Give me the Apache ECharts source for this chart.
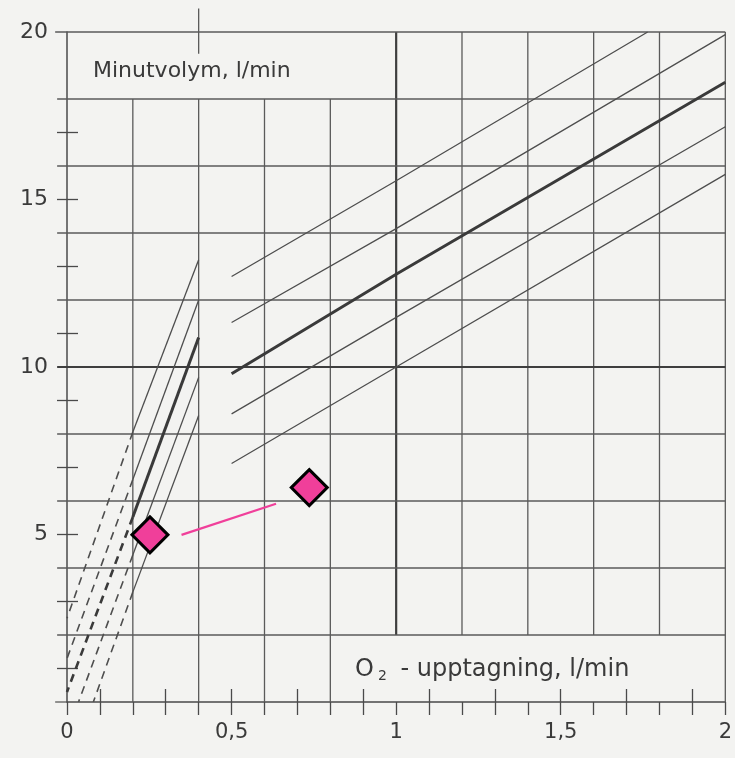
<!DOCTYPE html>
<html>
<head>
<meta charset="utf-8">
<script src="https://cdn.jsdelivr.net/npm/echarts@6/dist/echarts.min.js"></script>
<style>
  html, body { margin: 0; padding: 0; background: #f3f3f1; }
  #chart { width: 735px; height: 758px; }
</style>
</head>
<body>
<div id="chart"></div>
<script>
// Tick and label positions on both axes
const xTickValues = [0, 0.1, 0.2, 0.3, 0.4, 0.5, 0.6, 0.7, 0.8, 0.9, 1, 1.1, 1.2, 1.3, 1.4, 1.5, 1.6, 1.7, 1.8, 1.9, 2];
const xOddTicks = [0.1, 0.3, 0.5, 0.7, 0.9, 1.1, 1.3, 1.5, 1.7, 1.9];
const xLabelValues = [0, 0.5, 1, 1.5, 2];
const yOddTicks = [1, 3, 5, 7, 9, 11, 13, 15, 17];
const yLabelValues = [5, 10, 15, 20];

// Grid lines (l/min)
const gridXValues = [0.2, 0.4, 0.6, 0.8, 1, 1.2, 1.4, 1.6, 1.8];
const gridYValues = [2, 4, 6, 8, 10, 12, 14, 16, 18];
const heavyX = [1];
const heavyY = [10];

// Low uptake band: five lines, solid between 0.2 and 0.4 l/min, dashed toward the origin
const lowAtX02 = [8.06, 6.64, 5.52, 4.39, 3.28];
const lowAtX04 = [13.2, 12.0, 10.88, 9.69, 8.55];
const lowDashEnds = [[0, 2.5], [0, 1.3], [0, 0.3], [0.035, 0], [0.08, 0]];

// High uptake band: five lines from 0.5 l/min upward
const highAtX05 = [12.7, 11.33, 9.8, 8.6, 7.12];
const highAtX10 = [15.56, 14.13, 12.77, 11.48, 10.0];
const highEnds = [[1.764, 20], [2, 19.92], [2, 18.5], [2, 17.17], [2, 15.75]];

// Two measured points and the connector between them
const measuredPoints = [[0.252, 4.99], [0.736, 6.4]];
const connector = [[0.348, 4.99], [0.635, 5.92]];

const INK = '#4a4a4a';
const FONT = 'DejaVu Sans';

// Grid segments: vertical lines leave room for the two axis titles
const gridSegments = [];
gridXValues.forEach(x => {
  if (x < 1) gridSegments.push([x, 0, x, 18]);
  else gridSegments.push([x, 2, x, 20]);
});
gridSegments.push([0.4, 19.35, 0.4, 20.7]);
gridSegments.push([2, 0, 2, 20]);
gridYValues.forEach(y => gridSegments.push([-0.03, y, 2, y]));
gridSegments.push([-0.036, 20, 2, 20]);
gridSegments.push([-0.036, 0, 0, 0]);

const series = [];
series.push({
  type: 'custom',
  silent: true,
  z: 1,
  encode: { x: [0, 2], y: [1, 3] },
  data: gridSegments,
  renderItem: function (params, api) {
    const a = api.coord([api.value(0), api.value(1)]);
    const b = api.coord([api.value(2), api.value(3)]);
    const vertical = api.value(0) === api.value(2);
    const heavy = vertical ? heavyX.includes(api.value(0)) : heavyY.includes(api.value(1));
    return {
      type: 'line',
      shape: { x1: a[0], y1: a[1], x2: b[0], y2: b[1] },
      style: { stroke: heavy ? '#3e3e3e' : '#5a5a5a', lineWidth: heavy ? 2.2 : 1.3 }
    };
  }
});

function lineSeries(data, width, dashed) {
  return {
    type: 'line',
    data: data,
    symbol: 'none',
    silent: true,
    z: 3,
    lineStyle: { color: width > 2 ? '#3a3a3a' : '#4e4e4e', width: width, type: dashed ? [8, 6] : 'solid' }
  };
}

for (let i = 0; i < 5; i++) {
  const w = i === 2 ? 3 : 1.3;
  series.push(lineSeries([[0.2, lowAtX02[i]], [0.4, lowAtX04[i]]], w, false));
  series.push(lineSeries([[0.2, lowAtX02[i]], lowDashEnds[i]], i === 2 ? 2.6 : 1.6, true));
  series.push(lineSeries([[0.5, highAtX05[i]], [1, highAtX10[i]], highEnds[i]], w, false));
}

series.push({
  type: 'line',
  data: connector,
  symbol: 'none',
  silent: true,
  z: 4,
  lineStyle: { color: '#f03f9a', width: 2.2 }
});

series.push({
  type: 'scatter',
  data: measuredPoints,
  symbol: 'diamond',
  symbolSize: [36, 36],
  silent: true,
  z: 5,
  itemStyle: { color: '#f03f9a', opacity: 1, borderColor: '#000000', borderWidth: 3 }
});

const decimalComma = v => String(v).replace('.', ',');

const option = {
  backgroundColor: '#f3f3f1',
  animation: false,
  grid: { left: 67, right: 8, top: 32, bottom: 56, containLabel: false },
  xAxis: [
    {
      type: 'value', min: 0, max: 2, position: 'bottom',
      axisLine: { show: true, lineStyle: { color: INK, width: 1.5 } },
      axisTick: { show: true, customValues: xTickValues, length: 13, inside: false, lineStyle: { color: INK, width: 1.3 } },
      axisLabel: { customValues: xLabelValues, formatter: decimalComma, margin: 20, color: '#3a3a3a', fontFamily: FONT, fontSize: 21 },
      splitLine: { show: false }
    },
    {
      type: 'value', min: 0, max: 2, position: 'bottom', offset: 0,
      axisLine: { show: false },
      axisTick: { show: true, customValues: xOddTicks, length: 13, inside: true, lineStyle: { color: INK, width: 1.3 } },
      axisLabel: { show: false },
      splitLine: { show: false }
    }
  ],
  yAxis: [
    {
      type: 'value', min: 0, max: 20, position: 'left',
      axisLine: { show: true, lineStyle: { color: INK, width: 1.5 } },
      axisTick: { show: true, customValues: yOddTicks, length: 10, inside: false, lineStyle: { color: INK, width: 1.3 } },
      axisLabel: { customValues: yLabelValues, margin: 19, color: '#3a3a3a', fontFamily: FONT, fontSize: 22 },
      splitLine: { show: false }
    },
    {
      type: 'value', min: 0, max: 20, position: 'left', offset: 0,
      axisLine: { show: false },
      axisTick: { show: true, customValues: yOddTicks, length: 11, inside: true, lineStyle: { color: INK, width: 1.3 } },
      axisLabel: { show: false },
      splitLine: { show: false }
    }
  ],
  graphic: [
    {
      type: 'text', left: 93, top: 60, silent: true,
      style: { text: 'Minutvolym, l/min', font: '22px "DejaVu Sans"', fill: '#3a3a3a' }
    },
    {
      type: 'text', left: 355, top: 658, silent: true,
      style: {
        text: '{o|O}{s|2}{o| - upptagning, l/min}',
        rich: {
          o: { font: '24px "DejaVu Sans"', fill: '#3a3a3a' },
          s: { font: '14px "DejaVu Sans"', fill: '#3a3a3a', verticalAlign: 'bottom', padding: [12, 6, 0, 4] }
        }
      }
    }
  ],
  series: series
};

const chart = echarts.init(document.getElementById('chart'), null, { renderer: 'canvas' });
chart.setOption(option);
</script>
</body>
</html>
